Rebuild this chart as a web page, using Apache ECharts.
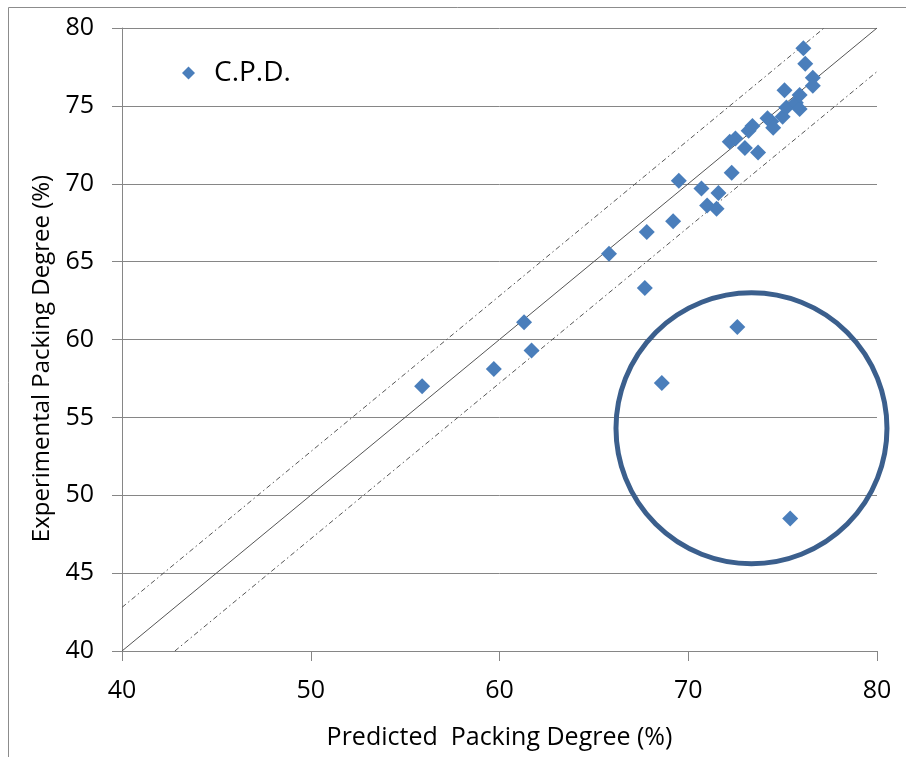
<!DOCTYPE html>
<html>
<head>
<meta charset="utf-8">
<script src="https://cdn.jsdelivr.net/npm/echarts@6/dist/echarts.min.js"></script>
<style>
html,body{margin:0;padding:0;background:#fff;overflow:hidden;}
#chart{width:906px;height:757px;}
</style>
</head>
<body>
<div id="chart"></div>
<script>
// Predicted packing degree (%)
var predicted = [55.9, 59.7, 61.3, 61.7, 65.8, 67.7, 67.8, 68.6, 69.2, 69.5,
                 70.7, 71.0, 71.5, 71.6, 72.3, 72.2, 72.5, 72.6, 73.0, 73.2,
                 73.4, 73.7, 74.2, 74.4, 74.5, 75.1, 75.0, 75.2, 75.4, 75.7,
                 75.9, 75.9, 76.1, 76.2, 76.6, 76.6];
// Experimental packing degree (%)
var experimental = [57.0, 58.1, 61.1, 59.3, 65.5, 63.3, 66.9, 57.2, 67.6, 70.2,
                    69.7, 68.6, 68.4, 69.4, 70.7, 72.7, 72.9, 60.8, 72.3, 73.4,
                    73.7, 72.0, 74.2, 74.0, 73.6, 76.0, 74.3, 74.9, 48.5, 75.2,
                    74.8, 75.7, 78.7, 77.7, 76.8, 76.3];
var seriesName = 'C.P.D.';
// Reference lines
var identityLine = [[40, 40], [80, 80]];
var upperBand = [[40, 42.8], [77.2, 80]];
var lowerBand = [[42.8, 40], [80, 77.2]];
// Highlight circle centre (data units)
var circleCenter = [73.35, 54.3];
var xTicks = {min: 40, max: 80, interval: 10};
var yTicks = {min: 40, max: 80, interval: 5};

var points = predicted.map(function (x, i) { return [x, experimental[i]]; });

var FONT = 'Open Sans';
var chart = echarts.init(document.getElementById('chart'), null,
  {renderer: 'canvas', width: 906, height: 757});
var gray = '#868686';

var option = {
  animation: false,
  backgroundColor: '#fff',
  textStyle: {fontFamily: FONT},
  grid: {left: 122, width: 755, top: 28, height: 623},
  legend: {
    left: 177, top: 54,
    itemWidth: 13, itemHeight: 13,
    data: [{name: seriesName, icon: 'diamond'}],
    textStyle: {fontFamily: FONT, fontSize: 28, color: '#000', padding: [0, 0, 0, 14]}
  },
  xAxis: {
    type: 'value', min: xTicks.min, max: xTicks.max, interval: xTicks.interval,
    name: 'Predicted  Packing Degree (%)', nameLocation: 'middle', nameGap: 74,
    nameTextStyle: {fontFamily: FONT, fontSize: 25, color: '#000'},
    axisLine: {show: true, onZero: false, lineStyle: {color: gray, width: 1}},
    axisTick: {show: true, length: 10, lineStyle: {color: gray}},
    axisLabel: {fontFamily: FONT, fontSize: 25, color: '#000', margin: 27},
    splitLine: {show: false}
  },
  yAxis: {
    type: 'value', min: yTicks.min, max: yTicks.max, interval: yTicks.interval,
    name: 'Experimental Packing Degree (%)', nameLocation: 'middle', nameGap: 63,
    nameTextStyle: {fontFamily: FONT, fontSize: 24, color: '#000', padding: [0, 38, 0, 0]},
    axisLine: {show: true, onZero: false, lineStyle: {color: gray, width: 1}},
    axisTick: {show: true, length: 10, lineStyle: {color: gray}},
    axisLabel: {fontFamily: FONT, fontSize: 25, color: '#000', margin: 28},
    splitLine: {show: true, lineStyle: {color: gray, width: 1}}
  },
  series: [
    {
      type: 'line', data: identityLine, symbol: 'none', silent: true,
      lineStyle: {color: '#555', width: 1}, z: 2
    },
    {
      type: 'line', data: upperBand, symbol: 'none', silent: true,
      lineStyle: {color: '#555', width: 1, type: [5, 3, 1.5, 3]}, z: 2
    },
    {
      type: 'line', data: lowerBand, symbol: 'none', silent: true,
      lineStyle: {color: '#555', width: 1, type: [5, 3, 1.5, 3]}, z: 2
    },
    {
      name: seriesName, type: 'scatter', data: points,
      symbol: 'diamond', symbolSize: 16,
      itemStyle: {color: '#4a7ebb', opacity: 1}, z: 5
    }
  ]
};
chart.setOption(option);

var c = chart.convertToPixel({gridIndex: 0}, circleCenter);
chart.setOption({
  graphic: [
    {
      type: 'rect', silent: true, z: 0,
      shape: {x: 8.5, y: 7.5, width: 2000, height: 2000},
      style: {fill: null, stroke: '#8c8c8c', lineWidth: 1}
    },
    {
      type: 'circle', silent: true, z: 10,
      shape: {cx: c[0], cy: c[1], r: 135.5},
      style: {fill: null, stroke: '#3b5f8d', lineWidth: 5}
    }
  ]
});
</script>
</body>
</html>
